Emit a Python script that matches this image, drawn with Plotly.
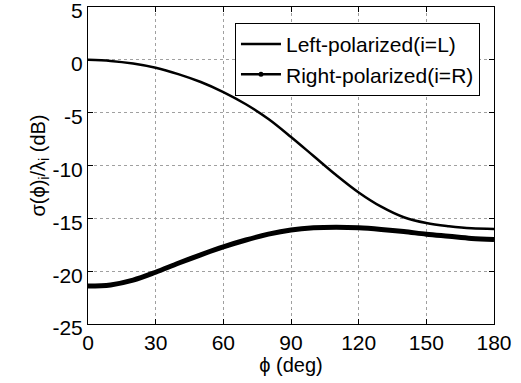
import plotly.graph_objects as go

phi_deg = [0, 10, 20, 30, 40, 50, 60, 70, 80, 90, 100, 110, 120, 130, 140, 150, 160, 170, 180]
left_pol = [0, -0.1, -0.35, -0.75, -1.35, -2.1, -3.05, -4.2, -5.6, -7.3, -9.1, -10.9, -12.55, -13.9, -14.9, -15.45, -15.75, -15.95, -16.0]
right_pol = [-21.4, -21.3, -20.85, -20.1, -19.25, -18.45, -17.7, -17.05, -16.5, -16.1, -15.9, -15.85, -15.9, -16.05, -16.25, -16.5, -16.7, -16.9, -17.0]

x_ticks = [0, 30, 60, 90, 120, 150, 180]
y_ticks = [-25, -20, -15, -10, -5, 0, 5]
y_tick_text = ["-25", "-20", "-15", "-10", "-5", "0", "5"]

fam = "Liberation Sans, Arial, sans-serif"
font = dict(family=fam, size=21, color="black")

fig = go.Figure()
fig.add_trace(go.Scatter(x=phi_deg, y=left_pol, mode="lines", line=dict(color="black", width=2.5, shape="spline"),
                         name="Left-polarized(i=L)"))
fig.add_trace(go.Scatter(x=phi_deg, y=right_pol, mode="lines", line=dict(color="black", width=5, shape="spline"),
                         showlegend=False, legendgroup="R"))
fig.add_trace(go.Scatter(x=[None], y=[None], mode="lines+markers", line=dict(color="black", width=2.5),
                         marker=dict(color="black", size=5), name="Right-polarized(i=R)", legendgroup="R"))

axis_common = dict(showline=True, linecolor="black", linewidth=1, mirror="ticks", ticks="inside", ticklen=5,
                   tickcolor="black", showgrid=True, gridcolor="#a0a0a0", griddash="dot", gridwidth=1,
                   zeroline=False, tickfont=font, ticklabeloverflow="allow", automargin=False)

fig.update_layout(
    width=521, height=383, margin=dict(l=88, r=27, t=7, b=59),
    plot_bgcolor="white", paper_bgcolor="white", font=font,
    xaxis=dict(range=[0, 180], tickvals=x_ticks,
               title=dict(text="ϕ (deg)", font=dict(family=fam, size=20, color="black"), standoff=0), **axis_common),
    yaxis=dict(range=[-25, 5], tickvals=y_ticks, ticktext=y_tick_text, ticklabelshift=4,
               title=dict(text="σ(ϕ)<sub>i</sub>/λ<sub>i</sub> (dB)", font=dict(family=fam, size=20, color="black"), standoff=0), **axis_common),
    legend=dict(x=0.362, y=0.95, xanchor="left", yanchor="top", bgcolor="white", bordercolor="black", borderwidth=1,
                font=dict(family=fam, size=21, color="black"),
                tracegroupgap=0, itemwidth=40),
    showlegend=True,
)

fig.write_html("out.html")
